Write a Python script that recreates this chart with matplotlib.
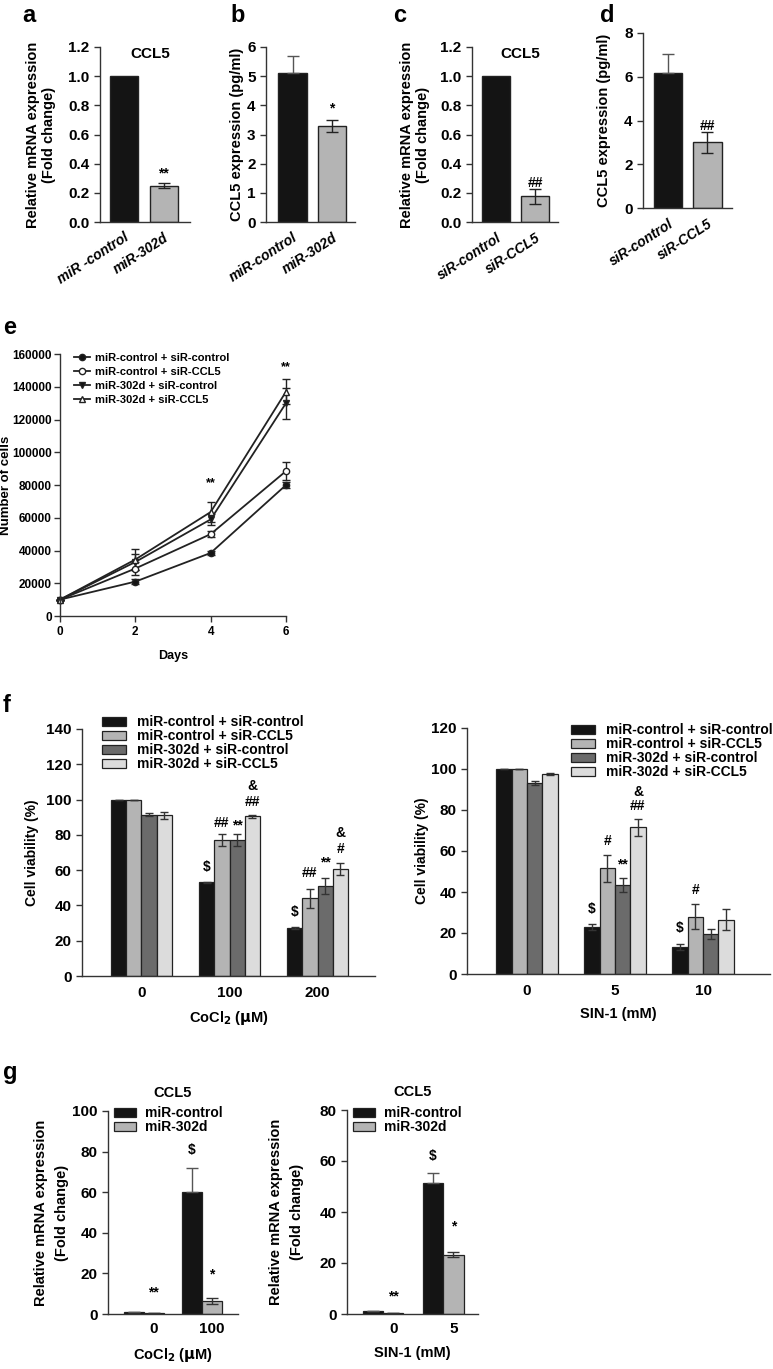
import matplotlib
matplotlib.use('Agg')
import matplotlib.pyplot as plt
from matplotlib.lines import Line2D
import numpy as np

W, H = 773, 1369
plt.rcParams['font.family'] = ['Liberation Sans', 'DejaVu Sans']
plt.rcParams['font.weight'] = 'bold'
plt.rcParams['axes.labelweight'] = 'bold'
plt.rcParams['mathtext.default'] = 'bf'

# ---- data ----
a_labels = ['miR -control', 'miR-302d']
a_vals = [1.0, 0.25]
a_err = [0.0, 0.02]
b_labels = ['miR-control', 'miR-302d']
b_vals = [5.1, 3.3]
b_err = [0.6, 0.2]
c_labels = ['siR-control', 'siR-CCL5']
c_vals = [1.0, 0.175]
c_err = [0.0, 0.05]
d_labels = ['siR-control', 'siR-CCL5']
d_vals = [6.15, 3.0]
d_err = [0.9, 0.48]

e_days = [0, 2, 4, 6]
series = ['miR-control + siR-control', 'miR-control + siR-CCL5',
          'miR-302d + siR-control', 'miR-302d + siR-CCL5']
e_ctrl_ctrl = [10000, 21000, 38500, 80000]
e_ctrl_ccl5 = [10000, 29000, 50000, 88500]
e_302_ctrl = [10000, 33000, 59000, 130000]
e_302_ccl5 = [10000, 34500, 63500, 137000]
e_ctrl_ctrl_err = [0, 1500, 1000, 2000]
e_ctrl_ccl5_err = [0, 4000, 2000, 5500]
e_302_ctrl_err = [0, 5000, 3500, 9500]
e_302_ccl5_err = [0, 6500, 6000, 7500]

co_doses = ['0', '100', '200']
co_ctrl_ctrl = [100, 53, 27]
co_ctrl_ccl5 = [100, 77, 44]
co_302_ctrl = [91.5, 77, 51]
co_302_ccl5 = [91, 90.5, 60.5]
co_ctrl_ctrl_err = [0, 0.5, 0.5]
co_ctrl_ccl5_err = [0, 3.5, 5.5]
co_302_ctrl_err = [1, 3.5, 4.5]
co_302_ccl5_err = [2, 1, 3.5]

sin_doses = ['0', '5', '10']
sin_ctrl_ctrl = [100, 23, 13]
sin_ctrl_ccl5 = [100, 51.5, 28]
sin_302_ctrl = [93, 43.5, 19.5]
sin_302_ccl5 = [97.5, 71.5, 26.5]
sin_ctrl_ctrl_err = [0, 1.5, 1.5]
sin_ctrl_ccl5_err = [0, 6.5, 6]
sin_302_ctrl_err = [1, 3.5, 2.5]
sin_302_ccl5_err = [0.5, 4, 5]

g_co_doses = ['0', '100']
g_co_ctrl = [1.0, 60]
g_co_302 = [0.3, 6.5]
g_co_ctrl_err = [0, 12]
g_co_302_err = [0, 1.5]
g_sin_doses = ['0', '5']
g_sin_ctrl = [1.0, 51.5]
g_sin_302 = [0.3, 23.2]
g_sin_ctrl_err = [0, 3.7]
g_sin_302_err = [0, 1]

BLACK = '#141414'
GRAY = '#b4b4b4'
DARK = '#6b6b6b'
LIGHT = '#dcdcdc'
TICK = 11

fig = plt.figure(figsize=(W / 100, H / 100), dpi=100)


def add_ax(l, t, r, b):
    ax = fig.add_axes([l / W, 1 - b / H, (r - l) / W, (b - t) / H])
    for s in ['top', 'right']:
        ax.spines[s].set_visible(False)
    for s in ['left', 'bottom']:
        ax.spines[s].set_linewidth(1.0)
        ax.spines[s].set_color('#333333')
    ax.tick_params(axis='y', direction='out', length=4, width=1, labelsize=TICK, color='#333333')
    ax.tick_params(axis='x', length=0, labelsize=TICK)
    return ax


def ylab_at(ax, right_px, l, r):
    # right edge of the y label block, in figure pixels
    ax.yaxis.set_label_coords((right_px - l) / (r - l), 0.5)


def panel_letter(s, x, y):
    fig.text(x / W, 1 - y / H, s, fontsize=17, fontweight='bold', va='center', ha='left')


# ---- a-d ----
small = [
    ('a', (100, 47, 190, 222), a_labels, a_vals, a_err, 1.2, 0.2, '%.1f', (-0.61, 1.67), 'CCL5', '**', 0.33, 'mrna', 56),
    ('b', (266, 47, 355, 222), b_labels, b_vals, b_err, 6, 1, '%d', (-0.67, 1.58), None, '*', 3.9, 'elisa', 244),
    ('c', (472, 47, 558, 222), c_labels, c_vals, c_err, 1.2, 0.2, '%.1f', (-0.62, 1.59), 'CCL5', '##', 0.27, 'mrna', 430),
    ('d', (643, 33, 732, 208), d_labels, d_vals, d_err, 8, 2, '%d', (-0.63, 1.62), None, '##', 3.75, 'elisa', 611),
]
letters = {'a': 22, 'b': 230, 'c': 393, 'd': 600}
for key, box, labels, vals, err, ymax, step, fmt, xl, title, star, stary, kind, ylx in small:
    l, t, r, b = box
    ax = add_ax(l, t, r, b)
    x = np.arange(len(vals))
    ax.bar(x, vals, width=0.71, color=[BLACK, GRAY], edgecolor='#222222', linewidth=1)
    ax.errorbar(x[1], vals[1], yerr=err[1], fmt='none', ecolor='#222222', elinewidth=1, capsize=4)
    if err[0] > 0:
        ax.errorbar(x[0], vals[0], yerr=[[0], [err[0]]], fmt='none', ecolor='#555555', elinewidth=1, capsize=4)
    ax.set_ylim(0, ymax)
    ax.set_xlim(*xl)
    ax.set_yticks(np.arange(0, ymax + step / 2, step))
    ax.yaxis.set_major_formatter(matplotlib.ticker.FormatStrFormatter(fmt))
    ax.set_xticks(x)
    ax.set_xticklabels(labels, rotation=33, ha='right', rotation_mode='anchor', fontsize=10, style='italic')
    ax.tick_params(axis='x', pad=6)
    ax.text(1, stary, star, ha='center', va='center', fontsize=10)
    if title:
        ax.text(0.56, 1.0, title, transform=ax.transAxes, ha='center', va='top', fontsize=11)
    if kind == 'mrna':
        ax.set_ylabel('Relative mRNA expression\n(Fold change)', fontsize=10.5)
    else:
        ax.set_ylabel('CCL5 expression (pg/ml)', fontsize=10.5)
    ylab_at(ax, ylx, l, r)
    panel_letter(key, letters[key], 15)

# ---- e ----
l, t, r, b = 60, 354, 286, 616
ax = add_ax(l, t, r, b)
ax.tick_params(axis='x', length=4, width=1, direction='out', color='#333333')
ax.tick_params(axis='both', labelsize=8.5)
e_data = [(e_ctrl_ctrl, e_ctrl_ctrl_err, 'o', BLACK), (e_ctrl_ccl5, e_ctrl_ccl5_err, 'o', 'white'),
          (e_302_ctrl, e_302_ctrl_err, 'v', BLACK), (e_302_ccl5, e_302_ccl5_err, '^', 'white')]
handles = []
for (vals, err, m, fc), name in zip(e_data, series):
    ax.errorbar(e_days, vals, yerr=err, color='#222222', lw=1.3, marker=m, ms=4.5,
                mfc=fc, mec='#222222', capsize=3, elinewidth=1, clip_on=False)
    handles.append(Line2D([], [], color='#222222', lw=1.3, marker=m, ms=4.5, mfc=fc, mec='#222222'))
ax.set_xlim(0, 6)
ax.set_ylim(0, 160000)
ax.set_xticks(e_days)
ax.set_yticks(np.arange(0, 160001, 20000))
ax.tick_params(axis='y', pad=2)
ax.text(4, 81000, '**', ha='center', va='center', fontsize=9)
ax.text(6, 152000, '**', ha='center', va='center', fontsize=9)
ax.set_xlabel('Days', fontsize=9, labelpad=8)
ax.set_ylabel('Number of cells', fontsize=9.5)
ylab_at(ax, 12, l, r)
ax.legend(handles, series, loc='upper left', bbox_to_anchor=(74 / W, 1 - 353 / H),
          bbox_transform=fig.transFigure, frameon=False, prop={'size': 8, 'weight': 'bold'},
          handlelength=1.4, handletextpad=0.5, labelspacing=0.35, borderpad=0, borderaxespad=0)
panel_letter('e', 3, 328)


# ---- f ----
def viability(box, doses, vals, errs, ymax, xl, xlabel, ylx, leg_xy, notes):
    l, t, r, b = box
    ax = add_ax(l, t, r, b)
    w = 0.174
    x = np.arange(len(doses))
    colors = [BLACK, GRAY, DARK, LIGHT]
    for i, (v, e, c, name) in enumerate(zip(vals, errs, colors, series)):
        xi = x + (i - 1.5) * w
        ax.bar(xi, v, width=w, color=c, edgecolor='#222222', linewidth=0.9, label=name)
        ax.errorbar(xi, v, yerr=e, fmt='none', ecolor='#333333', elinewidth=1, capsize=3)
    for g, i, s, y in notes:
        ax.text(g + (i - 1.5) * w, y, s, ha='center', va='center', fontsize=10)
    ax.set_ylim(0, ymax)
    ax.set_xlim(*xl)
    ax.set_yticks(np.arange(0, ymax + 1, 20))
    ax.set_xticks(x)
    ax.set_xticklabels(doses)
    ax.tick_params(axis='x', pad=7)
    ax.set_xlabel(xlabel, fontsize=10.5, labelpad=7)
    ax.set_ylabel('Cell viability (%)', fontsize=10)
    ylab_at(ax, ylx, l, r)
    ax.legend(loc='upper left', bbox_to_anchor=(leg_xy[0] / W, 1 - leg_xy[1] / H),
              bbox_transform=fig.transFigure, frameon=False, prop={'size': 10, 'weight': 'bold'},
              handlelength=1.75, handleheight=0.6, handletextpad=0.8, labelspacing=0.0,
              borderpad=0, borderaxespad=0)
    return ax


co_notes = [(1, 0, '$', 61.5), (1, 1, '##', 87), (1, 2, '**', 85.5), (1, 3, '##', 98.5), (1, 3, '&', 107.5),
            (2, 0, '$', 36), (2, 1, '##', 58.5), (2, 2, '**', 64.5), (2, 3, '#', 72), (2, 3, '&', 81)]
viability((82, 729, 375, 976), co_doses,
          [co_ctrl_ctrl, co_ctrl_ccl5, co_302_ctrl, co_302_ccl5],
          [co_ctrl_ctrl_err, co_ctrl_ccl5_err, co_302_ctrl_err, co_302_ccl5_err],
          140, (-0.676, 2.653), r'CoCl$_2$ ($\mu$M)', 39, (102, 715), co_notes)
sin_notes = [(1, 0, '$', 31.5), (1, 1, '#', 65), (1, 2, '**', 53.5), (1, 3, '##', 82), (1, 3, '&', 89),
             (2, 0, '$', 22.5), (2, 1, '#', 41)]
viability((467, 728, 770, 974), sin_doses,
          [sin_ctrl_ctrl, sin_ctrl_ccl5, sin_302_ctrl, sin_302_ccl5],
          [sin_ctrl_ctrl_err, sin_ctrl_ccl5_err, sin_302_ctrl_err, sin_302_ccl5_err],
          120, (-0.68, 2.76), 'SIN-1 (mM)', 429, (571, 723), sin_notes)
panel_letter('f', 3, 705)


# ---- g ----
def mrna(box, doses, ctrl, c_err, mir, m_err, ymax, xl, xlabel, ylx, leg_xy, notes):
    l, t, r, b = box
    ax = add_ax(l, t, r, b)
    w = 0.34
    x = np.arange(len(doses))
    ax.bar(x - w / 2, ctrl, width=w, color=BLACK, edgecolor='#222222', linewidth=0.9, label='miR-control')
    ax.bar(x + w / 2, mir, width=w, color=GRAY, edgecolor='#222222', linewidth=0.9, label='miR-302d')
    ax.errorbar(x - w / 2, ctrl, yerr=[np.zeros(len(c_err)), c_err], fmt='none', ecolor='#555555', elinewidth=1, capsize=4)
    ax.errorbar(x + w / 2, mir, yerr=m_err, fmt='none', ecolor='#333333', elinewidth=1, capsize=4)
    for xx, y, s in notes:
        ax.text(xx, y, s, ha='center', va='center', fontsize=10)
    ax.set_ylim(0, ymax)
    ax.set_xlim(*xl)
    ax.set_yticks(np.arange(0, ymax + 1, 20))
    ax.set_xticks(x + w / 2)
    ax.set_xticklabels(doses)
    ax.tick_params(axis='x', pad=6)
    ax.set_xlabel(xlabel, fontsize=10.5, labelpad=7)
    ax.set_ylabel('Relative mRNA expression\n(Fold change)', fontsize=10.5, linespacing=1.6)
    ylab_at(ax, ylx, l, r)
    ax.text(0.5, 1.09, 'CCL5', transform=ax.transAxes, ha='center', va='center', fontsize=10.5)
    ax.legend(loc='upper left', bbox_to_anchor=(leg_xy[0] / W, 1 - leg_xy[1] / H),
              bbox_transform=fig.transFigure, frameon=False, prop={'size': 10, 'weight': 'bold'},
              handlelength=1.6, handleheight=0.6, handletextpad=0.6, labelspacing=0.0,
              borderpad=0, borderaxespad=0)
    return ax


mrna((108, 1111, 238, 1314), g_co_doses, g_co_ctrl, g_co_ctrl_err, g_co_302, g_co_302_err,
     100, (-0.62, 1.62), r'CoCl$_2$ ($\mu$M)', 69, (114, 1106),
     [(0.17, 10.5, '**'), (0.83, 81, '$'), (1.17, 19.5, '*')])
mrna((347, 1110, 478, 1314), g_sin_doses, g_sin_ctrl, g_sin_ctrl_err, g_sin_302, g_sin_302_err,
     80, (-0.6, 1.58), 'SIN-1 (mM)', 304, (353, 1106),
     [(0.17, 7, '**'), (0.83, 62, '$'), (1.17, 34.5, '*')])
panel_letter('g', 3, 1072)

fig.savefig('out.png', dpi=100)
